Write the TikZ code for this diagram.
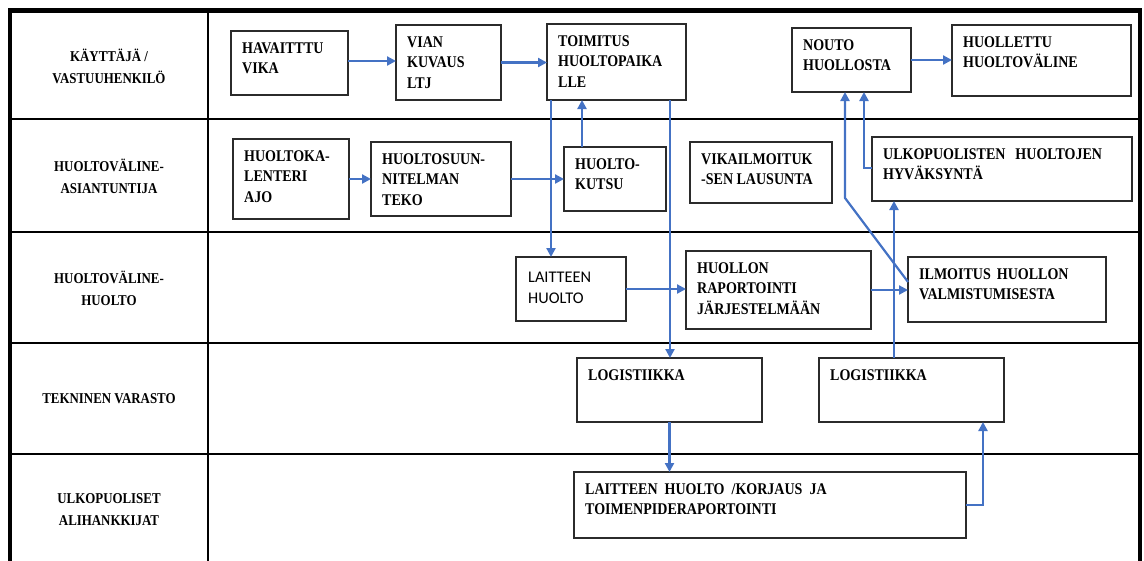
\documentclass[tikz,border=0pt]{standalone}
\usepackage{fontspec}
\setmainfont{Liberation Serif}
\newfontfamily\boxfont[FakeStretch=0.86]{Liberation Serif}
\newfontfamily\calfont{Carlito}
\usetikzlibrary{arrows.meta}

\definecolor{flowblue}{HTML}{4472C4}
\definecolor{boxline}{HTML}{2B2B2B}

\tikzset{
  frame/.style={line width=4.5pt, line cap=rect},
  laneline/.style={line width=2.6pt},
  lanelabel/.style={inner sep=0pt, align=center,
    font=\fontsize{15}{22}\boxfont\bfseries},
  box/.style={draw=boxline, line width=1.4pt, inner sep=0pt, outer sep=0pt,
    anchor=north west},
  txt/.style={anchor=north west, inner sep=0pt, align=left,
    font=\fontsize{16.3}{20.5}\boxfont\bfseries},
  flow/.style={draw=flowblue, line width=2.2pt,
    -{Triangle[length=9pt,width=9pt]}},
}

% \procbox{name}{x1}{y1}{x2}{y2}{text}: framed step with top-left text
\newcommand\procbox[6]{%
  \node[box, minimum width={#4pt-#2pt}, minimum height={#5pt-#3pt}] (#1) at (#2,#3) {};
  \node[txt] (#1t) at ([xshift=11pt,yshift=-11.2pt]#1.north west) {#6};
}

\begin{document}
\begin{tikzpicture}[x=1pt,y=-1pt]
\useasboundingbox (0,0) rectangle (1144,560);
\clip (0,0) rectangle (1144,560);

% swimlane table
\draw[frame] (10,570) -- (10,10.5) -- (1140,10.5) -- (1140,570);
\draw[laneline] (208,10.5) -- (208,570);
\foreach \y in {119,232,343,454}
  \draw[laneline] (10,\y) -- (1140,\y);

% lane titles
\node[lanelabel] (r1) at (109,66)  {KÄYTTÄJÄ /\\VASTUUHENKILÖ};
\node[lanelabel] (r2) at (109,176) {HUOLTOVÄLINE-\\ASIANTUNTIJA};
\node[lanelabel] (r3) at (109,288) {HUOLTOVÄLINE-\\HUOLTO};
\node[lanelabel] (r4) at (109,399) {TEKNINEN VARASTO};
\node[lanelabel] (r5) at (109,510) {ULKOPUOLISET\\ALIHANKKIJAT};

% lane 1
\procbox{b1}{231}{31}{348}{95}{HAVAITTTU\\VIKA}
\procbox{b2}{396}{25}{501}{100}{VIAN\\KUVAUS\\LTJ}
\procbox{b3}{547}{24}{686}{100}{TOIMITUS\\HUOLTOPAIKA\\LLE}
\procbox{b4}{792}{28}{911}{92}{NOUTO\\HUOLLOSTA}
\procbox{b5}{952}{25}{1131}{96}{HUOLLETTU\\HUOLTOVÄLINE}

% lane 2
\procbox{b6}{233}{139}{349}{219}{HUOLTOKA-\\LENTERI\\AJO}
\procbox{b7}{371}{142}{511}{216}{HUOLTOSUUN-\\NITELMAN\\TEKO}
\procbox{b8}{564}{147}{666}{211}{HUOLTO-\\KUTSU}
\procbox{b9}{690}{142}{832}{203}{VIKAILMOITUK\\-SEN LAUSUNTA}
\procbox{b10}{872}{137}{1132}{201}{ULKOPUOLISTEN\hspace{10pt}HUOLTOJEN\\HYVÄKSYNTÄ}

% lane 3
\node[box, minimum width=110pt, minimum height=64pt] (b11) at (516,257) {};
\node[txt, font=\fontsize{16.3}{21}\calfont] (b11t)
  at ([xshift=12pt,yshift=-14.5pt]b11.north west) {LAITTEEN\\HUOLTO};
\procbox{b12}{686}{251}{871}{329}{HUOLLON\\RAPORTOINTI\\JÄRJESTELMÄÄN}
\procbox{b13}{908}{257}{1106}{322}{ILMOITUS\hspace{6pt}HUOLLON\\VALMISTUMISESTA}

% lane 4
\procbox{b14}{577}{358}{762}{422}{LOGISTIIKKA}
\procbox{b15}{819}{358}{1004}{422}{LOGISTIIKKA}

% lane 5
\procbox{b16}{574}{472}{966}{538}{LAITTEEN\hspace{7pt}HUOLTO\hspace{7pt}/KORJAUS\hspace{7pt}JA\\TOIMENPIDERAPORTOINTI}

% flows
\draw[flow] ([yshift=2pt]b1.east) -- ([yshift=2pt]b2.west |- b1.east);
\draw[flow] (b2.east) -- (b3.west |- b2.east);
\draw[flow] (b4.east) -- (b5.west |- b4.east);
\draw[flow] (b6.east) -- (b7.west |- b6.east);
\draw[flow] (b7.east) -- (b8.west |- b7.east);
\draw[flow] ([xshift=18pt]b8.north west) -- ([xshift=18pt]b8.north west |- b3.south);
\draw[flow] ([xshift=4pt]b3.south west) -- ([xshift=4pt]b3.south west |- b11.north);
\draw[flow] ([xshift=-16pt]b3.south east) -- ([xshift=-16pt]b3.south east |- b14.north);
\draw[flow] (b11.east) -- (b12.west |- b11.east);
\draw[flow] (b12.east) -- (b13.west |- b12.east);
\draw[flow] (b14.south) -- (b14.south |- b16.north);
\draw[flow] (b16.east) -| ([xshift=-21pt]b15.south east);
\draw[flow] ([xshift=75pt]b15.north west) -- ([xshift=75pt]b15.north west |- b10.south);
\coordinate (k1) at (845,198);
\draw[flow] ([yshift=-25pt]b13.north west) -- (k1) -- (k1 |- b4.south);
\draw[flow] ([yshift=-31pt]b10.north west) -| ([xshift=72pt]b4.south west);
\end{tikzpicture}
\end{document}
